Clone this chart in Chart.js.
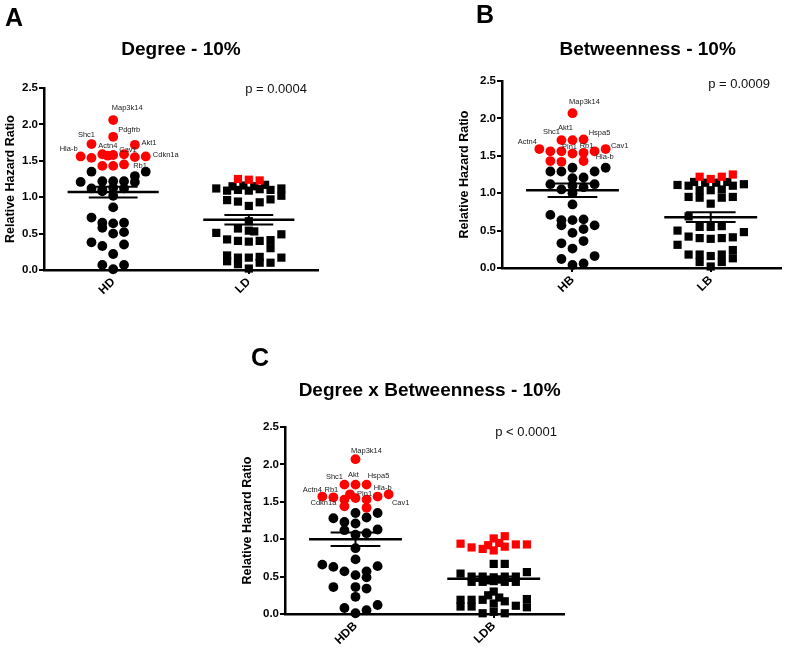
<!DOCTYPE html>
<html>
<head>
<meta charset="utf-8">
<script src="https://cdn.jsdelivr.net/npm/chart.js@4.4.1/dist/chart.umd.min.js"></script>
<style>
  body { margin: 0; background: #fff; width: 787px; height: 649px; position: relative; overflow: hidden; }
  canvas { position: absolute; }
  #chartA { left: 0; top: 0; }
  #chartB { left: 400px; top: 0; }
  #chartC { left: 230px; top: 330px; }
</style>
</head>
<body>
<canvas id="chartA" width="330" height="310"></canvas>
<canvas id="chartB" width="387" height="310"></canvas>
<canvas id="chartC" width="340" height="319"></canvas>
<script>
// points are [swarm column, relative hazard ratio]
const yTickLabels = ['0.0', '0.5', '1.0', '1.5', '2.0', '2.5'];

// A - Degree
const categoriesA = ['HD', 'LD'];
const hdRed = [[0, 2.06], [0, 1.83], [-2, 1.73], [2, 1.72], [-3, 1.56], [-2, 1.54], [-1, 1.59], [-0.5, 1.57],
  [0, 1.58], [1, 1.59], [2, 1.55], [3, 1.56], [-1, 1.43], [0, 1.43], [1, 1.45]];
const hdRedGenes = ['Map3k14', 'Pdgfrb', 'Shc1', 'Akt1', 'Hla-b', null, null, 'Actn4',
  null, 'Cav1', null, 'Cdkn1a', null, null, 'Rb1'];
const hdBlack = [[-2, 1.35], [3, 1.35], [2, 1.29], [-3, 1.21], [-1, 1.22], [0, 1.22], [1, 1.22], [2, 1.21],
  [-2, 1.12], [-1, 1.11], [0, 1.13], [1, 1.12], [-1, 1.08], [0, 1.02], [0, 0.86], [-2, 0.72], [-1, 0.65],
  [0, 0.64], [1, 0.65], [-1, 0.58], [0, 0.50], [1, 0.52], [-2, 0.38], [-1, 0.33], [1, 0.35], [0, 0.22],
  [-1, 0.07], [1, 0.07], [0, 0.01]];
const ldRed = [[-1, 1.25], [0, 1.24], [1, 1.23]];
const ldBlack = [[-3, 1.12], [-2, 1.09], [-1.5, 1.15], [-1, 1.10], [-0.5, 1.16], [0, 1.09], [0.5, 1.15],
  [1, 1.11], [1.5, 1.17], [2, 1.10], [3, 1.12], [-2, 0.96], [-1, 0.94], [0, 0.88], [1, 0.93], [2, 0.97],
  [3, 1.02], [0, 0.67], [-1, 0.57], [0, 0.54], [0.5, 0.53], [-3, 0.51], [3, 0.49], [-2, 0.42], [-1, 0.40],
  [0, 0.39], [1, 0.40], [2, 0.41], [2, 0.30], [-2, 0.20], [-2, 0.12], [-1, 0.17], [-1, 0.08], [0, 0.17],
  [1, 0.18], [1, 0.10], [2, 0.10], [3, 0.17], [0, 0.02]];
const meanA = [1.07, 0.69];
const semA = [0.075, 0.065];

// B - Betweenness
const categoriesB = ['HB', 'LB'];
const hbRed = [[0, 2.07], [-1, 1.71], [0, 1.71], [1, 1.72], [-3, 1.59], [-2, 1.56], [-1, 1.56], [0, 1.53],
  [1, 1.54], [2, 1.56], [3, 1.59], [-2, 1.43], [-1, 1.42], [1, 1.43]];
const hbRedGenes = ['Map3k14', 'Shc1', 'Akt1', 'Hspa5', 'Actn4', null, null, 'Pin1',
  'Rb1', 'Hla-b', 'Cav1', null, null, null];
const hbBlack = [[0, 1.34], [3, 1.34], [-2, 1.29], [-1, 1.29], [2, 1.29], [0, 1.20], [1, 1.21], [-2, 1.12],
  [2, 1.12], [-1, 1.05], [1, 1.08], [0, 1.10], [0, 1.00], [0, 0.85], [-2, 0.71], [-1, 0.64], [0, 0.64],
  [1, 0.65], [-1, 0.57], [2, 0.57], [1, 0.52], [0, 0.47], [-1, 0.33], [1, 0.36], [0, 0.26], [-1, 0.12],
  [2, 0.16], [0, 0.04], [1, 0.06]];
const lbRed = [[-1, 1.22], [0, 1.19], [1, 1.22], [2, 1.25]];
const lbBlack = [[-3, 1.11], [-2, 1.10], [-1.5, 1.15], [-1, 1.04], [-0.5, 1.14], [0, 1.04], [0.5, 1.14],
  [1, 1.05], [1.5, 1.15], [2, 1.10], [3, 1.12], [-2, 0.95], [-1, 0.94], [0, 0.86], [1, 0.94], [2, 0.95],
  [-2, 0.69], [-1, 0.55], [0, 0.55], [1, 0.56], [-3, 0.50], [3, 0.48], [-2, 0.42], [-1, 0.40], [0, 0.39],
  [1, 0.40], [2, 0.41], [-3, 0.31], [2, 0.24], [-2, 0.18], [-1, 0.18], [-1, 0.08], [0, 0.16], [1, 0.18],
  [1, 0.08], [2, 0.13], [0, 0.02]];
const meanB = [1.04, 0.68];
const semB = [0.09, 0.065];

// C - Degree x Betweenness
const categoriesC = ['HDB', 'LDB'];
const hdbRed = [[0, 2.07], [-1, 1.73], [0, 1.73], [1, 1.73], [-3, 1.57], [-2, 1.56], [-1, 1.53], [-0.5, 1.60],
  [0, 1.55], [1, 1.53], [2, 1.57], [3, 1.60], [-1, 1.44], [1, 1.42]];
const hdbRedGenes = ['Map3k14', 'Shc1', 'Akt', 'Hspa5', 'Actn4', 'Rb1', null, null,
  null, 'Pin1', 'Hla-b', 'Cav1', 'Cdkn1a', null];
const hdbBlack = [[0, 1.35], [2, 1.35], [-2, 1.28], [1, 1.29], [-1, 1.23], [0, 1.21], [-1, 1.12], [2, 1.13],
  [1, 1.08], [0, 1.06], [0, 0.88], [0, 0.73], [-3, 0.66], [-2, 0.63], [2, 0.64], [-1, 0.57], [1, 0.57],
  [0, 0.52], [1, 0.49], [-2, 0.36], [0, 0.36], [1, 0.34], [0, 0.23], [-1, 0.08], [1, 0.05], [2, 0.12],
  [0, 0.01]];
const ldbRed = [[-3, 0.94], [-2, 0.89], [-1, 0.87], [-0.5, 0.92], [0, 1.01], [0, 0.85], [0.5, 0.95],
  [1, 1.04], [1, 0.90], [2, 0.93], [3, 0.93]];
const ldbBlack = [[0, 0.67], [1, 0.67], [-3, 0.54], [3, 0.56], [-2, 0.50], [-2, 0.43], [-1, 0.50], [-1, 0.43],
  [0, 0.49], [0, 0.44], [1, 0.50], [1, 0.43], [2, 0.50], [2, 0.43], [-0.5, 0.45], [0.5, 0.46], [0, 0.30],
  [-0.5, 0.25], [0.5, 0.22], [-3, 0.19], [-3, 0.10], [-2, 0.19], [-2, 0.10], [-1, 0.19], [0, 0.14],
  [1, 0.17], [2, 0.11], [3, 0.20], [3, 0.09], [-1, 0.01], [0, 0.03], [1, 0.01]];
const meanC = [1.00, 0.47];
const semC = [0.09, 0.03];

const FONT = "'Liberation Sans', Arial, sans-serif";
const COL_STEP = 0.08;

// mean/SEM bars, gene labels, panel letter, title and p value
const decorPlugin = {
  id: 'decor',
  afterDatasetsDraw(chart, args, o) {
    const ctx = chart.ctx;
    const xs = chart.scales.x, ys = chart.scales.y;
    ctx.save();
    ctx.strokeStyle = '#000';
    ctx.lineCap = 'butt';
    const line = (x1, y1, x2, y2, w) => {
      ctx.lineWidth = w;
      ctx.beginPath(); ctx.moveTo(x1, y1); ctx.lineTo(x2, y2); ctx.stroke();
    };
    o.mean.forEach((m, i) => {
      const c = i + 1;
      const cx = xs.getPixelForValue(c);
      const ym = ys.getPixelForValue(m);
      const yu = ys.getPixelForValue(m + o.sem[i]);
      const yl = ys.getPixelForValue(m - o.sem[i]);
      line(xs.getPixelForValue(c - 0.336), ym, xs.getPixelForValue(c + 0.336), ym, 2.5);
      line(xs.getPixelForValue(c - 0.18), yu, xs.getPixelForValue(c + 0.18), yu, 2);
      line(xs.getPixelForValue(c - 0.18), yl, xs.getPixelForValue(c + 0.18), yl, 2);
      line(cx, yu, cx, yl, 2);
    });

    // gene names next to red points
    const meta = chart.getDatasetMeta(0);
    ctx.font = '7.5px ' + FONT;
    ctx.fillStyle = '#222';
    ctx.textAlign = 'center';
    ctx.textBaseline = 'middle';
    o.genes.forEach((g, j) => {
      if (!g) return;
      const pt = meta.data[j];
      const off = o.labelOffsets[g] || [0, -10];
      ctx.fillText(g, pt.x + off[0], pt.y + off[1]);
    });

    ctx.fillStyle = '#000';
    ctx.textBaseline = 'alphabetic';
    ctx.textAlign = 'left';
    ctx.font = 'bold 25px ' + FONT;
    ctx.fillText(o.letter, o.letterPos[0], o.letterPos[1]);

    const ca = chart.chartArea;
    ctx.textAlign = 'center';
    ctx.font = 'bold 19px ' + FONT;
    ctx.fillText(o.title, (ca.left + ca.right) / 2 + o.titleDx, o.titleY);

    ctx.textAlign = 'right';
    ctx.font = '13px ' + FONT;
    ctx.fillStyle = '#111';
    ctx.fillText(o.pText, o.pPos[0], o.pPos[1]);
    ctx.restore();
  }
};

function makePanel(id, d) {
  const toPts = (arr, cat) => arr.map(p => ({ x: cat + p[0] * COL_STEP, y: p[1] }));
  const base = { showLine: false, clip: false, borderWidth: 0, pointHoverRadius: 0 };
  new Chart(document.getElementById(id), {
    type: 'scatter',
    data: {
      datasets: [
        Object.assign({ data: toPts(d.highRed, 1), backgroundColor: '#ff0000', pointStyle: 'circle', pointRadius: 4.9 }, base),
        Object.assign({ data: toPts(d.highBlack, 1), backgroundColor: '#000', pointStyle: 'circle', pointRadius: 4.9 }, base),
        Object.assign({ data: toPts(d.lowRed, 2), backgroundColor: '#ff0000', pointStyle: 'rect', pointRadius: 5.8 }, base),
        Object.assign({ data: toPts(d.lowBlack, 2), backgroundColor: '#000', pointStyle: 'rect', pointRadius: 5.8 }, base)
      ]
    },
    options: {
      responsive: false,
      animation: false,
      devicePixelRatio: 1,
      layout: { padding: d.padding },
      plugins: {
        legend: { display: false },
        tooltip: { enabled: false },
        decor: d.decor
      },
      scales: {
        x: {
          type: 'linear', min: 0.49, max: 2.51,
          afterBuildTicks: a => { a.ticks = [{ value: 1 }, { value: 2 }]; },
          afterFit: s => { s.height = d.xHeight; },
          ticks: {
            autoSkip: false, minRotation: 45, maxRotation: 45, padding: 1, color: '#000',
            font: { family: FONT, size: 12, weight: 'bold' },
            callback: v => d.categories[Math.round(v) - 1]
          },
          grid: { drawOnChartArea: false, drawTicks: true, tickLength: 4, color: '#000', lineWidth: 2 },
          border: { display: true, color: '#000', width: 2.5 }
        },
        y: {
          min: 0, max: 2.5,
          afterFit: s => { s.width = d.yWidth; },
          ticks: {
            stepSize: 0.5, padding: 1, color: '#000',
            font: { family: FONT, size: 11.5, weight: 'bold' },
            callback: (v, i) => yTickLabels[i]
          },
          grid: { drawOnChartArea: false, drawTicks: true, tickLength: 5, color: '#000', lineWidth: 2 },
          border: { display: true, color: '#000', width: 2.5 },
          title: {
            display: true, text: 'Relative Hazard Ratio', color: '#000',
            font: { family: FONT, size: 12.5, weight: 'bold' }, padding: { top: 3, bottom: 0 }
          }
        }
      }
    },
    plugins: [decorPlugin]
  });
}

makePanel('chartA', {
  categories: categoriesA, highRed: hdRed, highBlack: hdBlack, lowRed: ldRed, lowBlack: ldBlack,
  padding: { left: 0, top: 88, right: 12, bottom: 0 }, yWidth: 44, xHeight: 40,
  decor: {
    mean: meanA, sem: semA, genes: hdRedGenes,
    labelOffsets: { 'Map3k14': [14, -12], 'Pdgfrb': [16, -7], 'Shc1': [-5, -9], 'Akt1': [14, -2],
      'Hla-b': [-12, -7], 'Actn4': [0, -10], 'Cav1': [4, -4], 'Cdkn1a': [20, -1], 'Rb1': [16, 1] },
    letter: 'A', letterPos: [5, 26], title: 'Degree - 10%', titleDx: 0, titleY: 55,
    pText: 'p = 0.0004', pPos: [307, 93]
  }
});

makePanel('chartB', {
  categories: categoriesB, highRed: hbRed, highBlack: hbBlack, lowRed: lbRed, lowBlack: lbBlack,
  padding: { left: 54, top: 81, right: 3, bottom: 0 }, yWidth: 48, xHeight: 42,
  decor: {
    mean: meanB, sem: semB, genes: hbRedGenes,
    labelOffsets: { 'Map3k14': [12, -11], 'Shc1': [-10, -8], 'Akt1': [-7, -12], 'Hspa5': [16, -6],
      'Actn4': [-12, -7], 'Pin1': [-3, -7], 'Rb1': [3, -7], 'Cav1': [14, -3], 'Hla-b': [10, 6] },
    letter: 'B', letterPos: [76, 23], title: 'Betweenness - 10%', titleDx: 6, titleY: 55,
    pText: 'p = 0.0009', pPos: [370, 88]
  }
});

makePanel('chartC', {
  categories: categoriesC, highRed: hdbRed, highBlack: hdbBlack, lowRed: ldbRed, lowBlack: ldbBlack,
  padding: { left: 7, top: 97, right: 3, bottom: 0 }, yWidth: 48, xHeight: 35,
  decor: {
    mean: meanC, sem: semC, genes: hdbRedGenes,
    labelOffsets: { 'Map3k14': [11, -8], 'Shc1': [-10, -8], 'Akt': [-2, -10], 'Hspa5': [12, -9],
      'Actn4': [-10, -7], 'Rb1': [-2, -7], 'Pin1': [-2, -6], 'Hla-b': [5, -9], 'Cdkn1a': [-21, -3], 'Cav1': [12, 9] },
    letter: 'C', letterPos: [21, 36], title: 'Degree x Betweenness - 10%', titleDx: 5, titleY: 66,
    pText: 'p < 0.0001', pPos: [327, 106]
  }
});
</script>
</body>
</html>
